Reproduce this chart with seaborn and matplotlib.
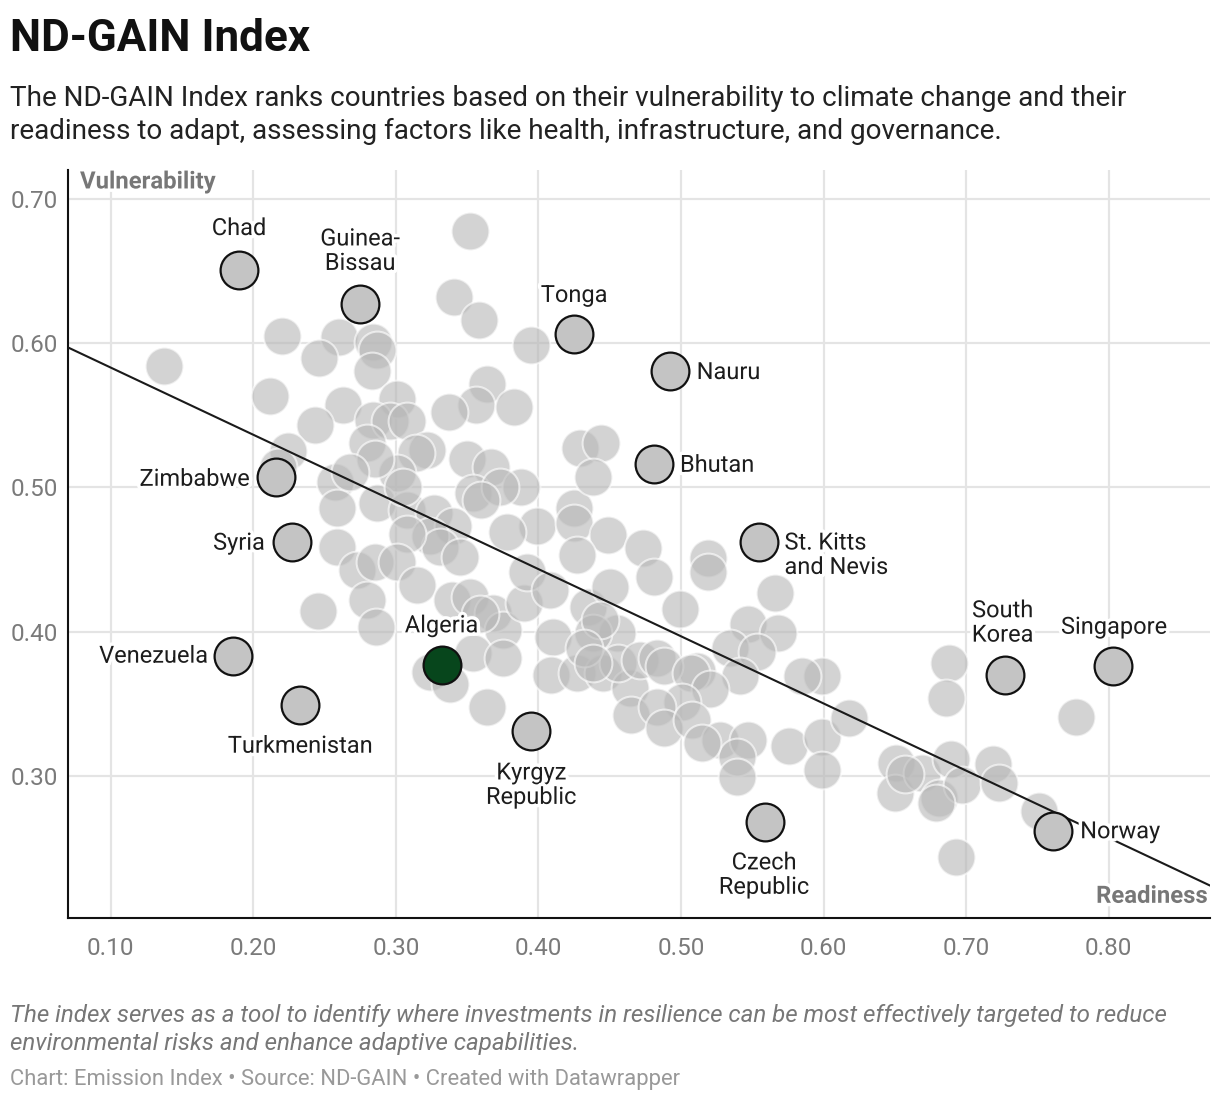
import pandas as pd
import seaborn as sns
import matplotlib.pyplot as plt
import matplotlib.patheffects as pe

# unlabeled countries: readiness (x) and vulnerability (y)
readiness = [
    0.352, 0.341, 0.358, 0.395, 0.220, 0.260, 0.246, 0.284, 0.287, 0.283,
    0.137, 0.212, 0.364, 0.263, 0.301, 0.356, 0.383, 0.337, 0.243, 0.284,
    0.296, 0.308, 0.224, 0.280, 0.322, 0.314, 0.350, 0.367, 0.388, 0.354,
    0.301, 0.285, 0.257, 0.259, 0.287, 0.308, 0.327, 0.399, 0.378, 0.340,
    0.217, 0.268, 0.373, 0.360, 0.305, 0.324, 0.331, 0.345, 0.308, 0.259,
    0.273, 0.285, 0.301, 0.280, 0.315, 0.339, 0.352, 0.368, 0.375, 0.390,
    0.392, 0.408, 0.425, 0.425, 0.429, 0.444, 0.438, 0.449, 0.473, 0.435,
    0.450, 0.455, 0.438, 0.410, 0.409, 0.427, 0.445, 0.464, 0.465, 0.245,
    0.286, 0.324, 0.338, 0.354, 0.375, 0.364, 0.359, 0.427, 0.481, 0.519,
    0.519, 0.499, 0.443, 0.566, 0.547, 0.568, 0.534, 0.553, 0.541, 0.511,
    0.456, 0.471, 0.483, 0.488, 0.507, 0.520, 0.501, 0.483, 0.488, 0.508,
    0.527, 0.547, 0.539, 0.539, 0.576, 0.599, 0.599, 0.585, 0.618, 0.599,
    0.651, 0.650, 0.688, 0.686, 0.777, 0.669, 0.689, 0.681, 0.697, 0.719,
    0.723, 0.751, 0.693, 0.679, 0.657, 0.432, 0.438, 0.515,
]
vulnerability = [
    0.678, 0.632, 0.616, 0.599, 0.605, 0.604, 0.590, 0.601, 0.595, 0.581,
    0.584, 0.563, 0.572, 0.557, 0.561, 0.557, 0.556, 0.552, 0.543, 0.547,
    0.546, 0.546, 0.525, 0.531, 0.526, 0.524, 0.520, 0.514, 0.500, 0.496,
    0.510, 0.520, 0.504, 0.486, 0.489, 0.484, 0.482, 0.473, 0.469, 0.473,
    0.514, 0.511, 0.500, 0.491, 0.500, 0.466, 0.459, 0.452, 0.468, 0.459,
    0.443, 0.448, 0.448, 0.422, 0.432, 0.422, 0.424, 0.413, 0.401, 0.420,
    0.441, 0.429, 0.486, 0.475, 0.527, 0.531, 0.507, 0.467, 0.458, 0.417,
    0.431, 0.399, 0.399, 0.396, 0.370, 0.371, 0.371, 0.361, 0.342, 0.414,
    0.403, 0.372, 0.364, 0.385, 0.382, 0.348, 0.412, 0.453, 0.438, 0.451,
    0.441, 0.416, 0.408, 0.427, 0.405, 0.399, 0.389, 0.386, 0.369, 0.373,
    0.378, 0.380, 0.382, 0.376, 0.371, 0.360, 0.351, 0.348, 0.333, 0.339,
    0.325, 0.325, 0.313, 0.299, 0.321, 0.327, 0.369, 0.369, 0.340, 0.304,
    0.309, 0.288, 0.378, 0.354, 0.341, 0.302, 0.312, 0.285, 0.294, 0.308,
    0.295, 0.276, 0.244, 0.281, 0.301, 0.389, 0.378, 0.323,
]

# highlighted countries
names = ["Chad", "Guinea-\nBissau", "Tonga", "Nauru", "Bhutan", "Zimbabwe",
         "Syria", "St. Kitts\nand Nevis", "Venezuela", "Turkmenistan",
         "Kyrgyz\nRepublic", "Czech\nRepublic", "South\nKorea", "Singapore",
         "Norway"]
names_readiness = [0.190, 0.275, 0.425, 0.492, 0.481, 0.216, 0.227, 0.555,
                   0.186, 0.233, 0.395, 0.559, 0.727, 0.803, 0.761]
names_vulnerability = [0.651, 0.627, 0.606, 0.581, 0.516, 0.507, 0.462, 0.462,
                       0.383, 0.349, 0.331, 0.268, 0.370, 0.376, 0.262]

focus_name = "Algeria"
focus_readiness = 0.332
focus_vulnerability = 0.377

# trend line end points
trend_readiness = [0.07, 0.871]
trend_vulnerability = [0.597, 0.224]

x_ticks = [0.10, 0.20, 0.30, 0.40, 0.50, 0.60, 0.70, 0.80]
y_ticks = [0.30, 0.40, 0.50, 0.60, 0.70]

# label placement: (dx, dy) in pixels from the dot, horizontal alignment
label_layout = {
    "Chad": (0, 41, "center"),
    "Guinea-\nBissau": (0, 53, "center"),
    "Tonga": (0, 39, "center"),
    "Nauru": (27, -2, "left"),
    "Bhutan": (26, -1, "left"),
    "Zimbabwe": (-26, -2, "right"),
    "Syria": (-27, -1, "right"),
    "St. Kitts\nand Nevis": (25, -13, "left"),
    "Venezuela": (-25, 0, "right"),
    "Turkmenistan": (0, -41, "center"),
    "Kyrgyz\nRepublic": (0, -54, "center"),
    "Czech\nRepublic": (-1, -53, "center"),
    "South\nKorea": (-2, 52, "center"),
    "Singapore": (1, 39, "center"),
    "Norway": (27, -1, "left"),
}

sns.set_theme(style="whitegrid")
plt.rcParams['font.family'] = ['Roboto', 'DejaVu Sans']

fig = plt.figure(figsize=(12.2, 11.02), dpi=100)
ax = fig.add_axes([68 / 1220, 1 - 918 / 1102, 1142 / 1220, 748 / 1102])

others = pd.DataFrame({'readiness': readiness, 'vulnerability': vulnerability})
named = pd.DataFrame({'name': names, 'readiness': names_readiness,
                      'vulnerability': names_vulnerability})

sns.scatterplot(data=others, x='readiness', y='vulnerability', ax=ax,
                s=740, color='#b8b8b8', alpha=0.62, edgecolor='white',
                linewidth=1.5, zorder=2)
ax.plot(trend_readiness, trend_vulnerability, color='#1a1a1a', lw=1.5, zorder=3)
sns.scatterplot(data=named, x='readiness', y='vulnerability', ax=ax,
                s=740, color='#c4c4c4', edgecolor='#111111', linewidth=1.6,
                zorder=4)
ax.scatter([focus_readiness], [focus_vulnerability], s=740, color='#07461c',
           edgecolor='#111111', linewidth=1.6, zorder=5)

halo = [pe.withStroke(linewidth=5, foreground='white')]
for name, x, y in zip(names + [focus_name],
                      names_readiness + [focus_readiness],
                      names_vulnerability + [focus_vulnerability]):
    dx, dy, ha = label_layout.get(name, (0, 39, "center"))
    ax.annotate(name, (x, y), xytext=(dx, dy), textcoords='offset pixels',
                ha=ha, va='center', fontsize=17, color='#1d1d1d',
                linespacing=1.08, path_effects=halo, zorder=6)

ax.set_xlim(0.07, 0.871)
ax.set_ylim(0.2015, 0.72)
ax.set_xticks(x_ticks)
ax.set_yticks(y_ticks)
ax.set_xticklabels([f"{t:.2f}" for t in x_ticks])
ax.set_yticklabels([f"{t:.2f}" for t in y_ticks])
ax.tick_params(axis='both', colors='#7a7a7a', labelsize=17.5, length=0)
ax.tick_params(axis='x', pad=14)
ax.tick_params(axis='y', pad=7)
ax.grid(True, color='#e4e4e4', lw=1.6)
ax.set_xlabel('')
ax.set_ylabel('')
for side in ['top', 'right']:
    ax.spines[side].set_visible(False)
for side in ['left', 'bottom']:
    ax.spines[side].set_color('#111111')
    ax.spines[side].set_linewidth(1.5)

ax.text(0.0105, 0.984, 'Vulnerability', transform=ax.transAxes, ha='left',
        va='center', fontsize=17.2, fontweight='bold', color='#777777',
        path_effects=halo, zorder=7)
ax.text(0.998, 0.029, 'Readiness', transform=ax.transAxes, ha='right',
        va='center', fontsize=17.2, fontweight='bold', color='#777777',
        path_effects=halo, zorder=7)

fig.text(10 / 1220, 1 - 51 / 1102, 'ND-GAIN Index', fontsize=31.7,
         fontweight='bold', color='#111111', va='baseline')
fig.text(10 / 1220, 1 - 106 / 1102,
         'The ND-GAIN Index ranks countries based on their vulnerability to climate change and their',
         fontsize=20.1, color='#222222', va='baseline')
fig.text(10 / 1220, 1 - 139 / 1102,
         'readiness to adapt, assessing factors like health, infrastructure, and governance.',
         fontsize=20.1, color='#222222', va='baseline')
fig.text(10 / 1220, 1 - 1022 / 1102,
         'The index serves as a tool to identify where investments in resilience can be most effectively targeted to reduce',
         fontsize=17.4, style='italic', color='#777777', va='baseline')
fig.text(10 / 1220, 1 - 1050 / 1102,
         'environmental risks and enhance adaptive capabilities.',
         fontsize=17.4, style='italic', color='#777777', va='baseline')
fig.text(10 / 1220, 1 - 1085 / 1102,
         'Chart: Emission Index \u2022 Source: ND-GAIN \u2022 Created with Datawrapper',
         fontsize=15.8, color='#999999', va='baseline')

fig.savefig('out.png', dpi=100, facecolor='white')
